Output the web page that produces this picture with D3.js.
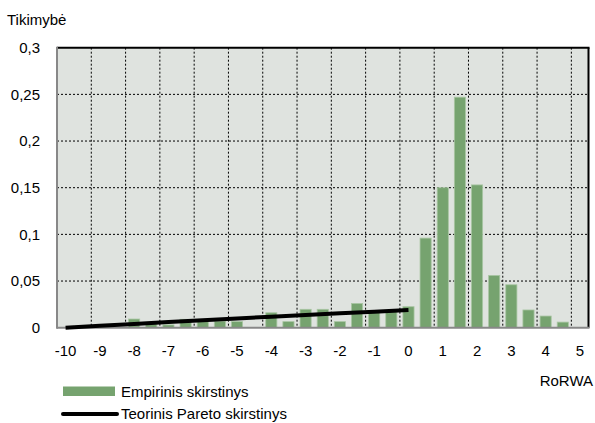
<!DOCTYPE html>
<html>
<head>
<meta charset="utf-8">
<script src="https://cdn.jsdelivr.net/npm/d3@7"></script>
<style>
  body { margin: 0; background: #fff; }
  svg text { font-family: "Liberation Sans", Arial, sans-serif; font-size: 15px; fill: #000; }
</style>
</head>
<body>
<div id="chart"></div>
<script>
// categories (RoRWA, 0.5 step)
var categories = [-10, -9.5, -9, -8.5, -8, -7.5, -7, -6.5, -6, -5.5, -5, -4.5, -4, -3.5, -3, -2.5,
                  -2, -1.5, -1, -0.5, 0, 0.5, 1, 1.5, 2, 2.5, 3, 3.5, 4, 4.5, 5];
// empirical distribution
var empirical = [0, 0, 0, 0, 0.0093, 0.004, 0.003, 0.009, 0.008, 0.007, 0.0065, 0, 0.016, 0.0065, 0.0197, 0.0197,
                 0.0065, 0.026, 0.017, 0.018, 0.0225, 0.096, 0.150, 0.247, 0.153, 0.056, 0.046, 0.019, 0.0125, 0.006, 0];
// theoretical Pareto distribution
var paretoX = [-10, -9, -8, -7, -6, -5, -4, -3, -2, -1, 0];
var paretoY = [0, 0.002, 0.004, 0.006, 0.008, 0.0099, 0.0118, 0.0137, 0.0155, 0.0172, 0.019];

var xTicks = [-10, -9, -8, -7, -6, -5, -4, -3, -2, -1, 0, 1, 2, 3, 4, 5];
var yTicks = [0, 0.05, 0.1, 0.15, 0.2, 0.25, 0.3];

var W = 595, H = 423;
var plotL = 57, plotR = 588.5, plotT = 47.7, plotB = 327.7;

var svg = d3.select("#chart").append("svg")
    .attr("width", W)
    .attr("height", H);

var x = d3.scaleBand().domain(categories).range([plotL, plotR]).paddingInner(0.35).paddingOuter(0.175);
var xb = d3.scaleBand().domain(categories).range([plotL, plotR]);
var y = d3.scaleLinear().domain([0, 0.3]).range([plotB, plotT]);

var fmt = d3.formatLocale({ decimal: ",", thousands: " ", grouping: [3], currency: ["", ""] }).format("~g");

// plot background
svg.append("rect")
    .attr("x", plotL).attr("y", plotT)
    .attr("width", plotR - plotL).attr("height", plotB - plotT)
    .attr("fill", "#dfe3df");

// grid
svg.append("g").selectAll("line")
    .data(yTicks.slice(1, -1))
    .enter().append("line")
    .attr("x1", plotL).attr("x2", plotR)
    .attr("y1", function (d) { return y(d); })
    .attr("y2", function (d) { return y(d); })
    .attr("stroke", "#000").attr("stroke-width", 1).attr("stroke-dasharray", "2,2");

svg.append("g").selectAll("line")
    .data(xTicks.slice(1))
    .enter().append("line")
    .attr("x1", function (d) { return xb(d); })
    .attr("x2", function (d) { return xb(d); })
    .attr("y1", plotT).attr("y2", plotB)
    .attr("stroke", "#000").attr("stroke-width", 1).attr("stroke-dasharray", "2,2");

// bars
svg.append("g").selectAll("rect")
    .data(categories.map(function (c, i) { return { c: c, v: empirical[i] }; }).filter(function (d) { return d.v > 0; }))
    .enter().append("rect")
    .attr("x", function (d) { return x(d.c); })
    .attr("y", function (d) { return y(d.v); })
    .attr("width", x.bandwidth())
    .attr("height", function (d) { return plotB - y(d.v); })
    .attr("fill", "#76a36f")
    .attr("stroke", "#a9c6a3")
    .attr("stroke-width", 0.8);

// borders
svg.append("line").attr("x1", plotL).attr("x2", plotR + 1).attr("y1", plotT).attr("y2", plotT)
    .attr("stroke", "#000").attr("stroke-width", 2);
svg.append("line").attr("x1", plotR).attr("x2", plotR).attr("y1", plotT).attr("y2", plotB)
    .attr("stroke", "#000").attr("stroke-width", 2);
svg.append("line").attr("x1", plotL).attr("x2", plotL).attr("y1", plotT - 1).attr("y2", plotB + 1)
    .attr("stroke", "#888").attr("stroke-width", 2);
svg.append("line").attr("x1", plotL).attr("x2", plotR + 1).attr("y1", plotB).attr("y2", plotB)
    .attr("stroke", "#888").attr("stroke-width", 2);

// pareto line
var line = d3.line()
    .x(function (d) { return xb(d[0]) + xb.bandwidth() / 2; })
    .y(function (d) { return y(d[1]); });
svg.append("path")
    .datum(paretoX.map(function (d, i) { return [d, paretoY[i]]; }))
    .attr("d", line)
    .attr("fill", "none")
    .attr("stroke", "#000")
    .attr("stroke-width", 4);

// axes
var xAxis = svg.append("g")
    .attr("transform", "translate(0," + plotB + ")")
    .call(d3.axisBottom(xb).tickValues(xTicks).tickSize(0).tickPadding(18));
xAxis.select(".domain").remove();
xAxis.selectAll("text").style("font-size", "15px").attr("font-family", null);

var yAxis = svg.append("g")
    .attr("transform", "translate(" + plotL + ",0)")
    .call(d3.axisLeft(y).tickValues(yTicks).tickFormat(fmt).tickSize(0).tickPadding(17));
yAxis.select(".domain").remove();
yAxis.selectAll("text").style("font-size", "15px").attr("font-family", null);

// titles
svg.append("text").attr("x", 7).attr("y", 25).text("Tikimybė");
svg.append("text").attr("x", 593).attr("y", 386).attr("text-anchor", "end").text("RoRWA");

// legend
var lg = svg.append("g");
lg.append("rect").attr("x", 63).attr("y", 386.5).attr("width", 52).attr("height", 9.5).attr("fill", "#76a36f");
lg.append("text").attr("x", 121).attr("y", 397).text("Empirinis skirstinys");
lg.append("line").attr("x1", 63).attr("x2", 117).attr("y1", 414).attr("y2", 414)
    .attr("stroke", "#000").attr("stroke-width", 4).attr("stroke-linecap", "round");
lg.append("text").attr("x", 121).attr("y", 419).text("Teorinis Pareto skirstinys");
</script>
</body>
</html>
